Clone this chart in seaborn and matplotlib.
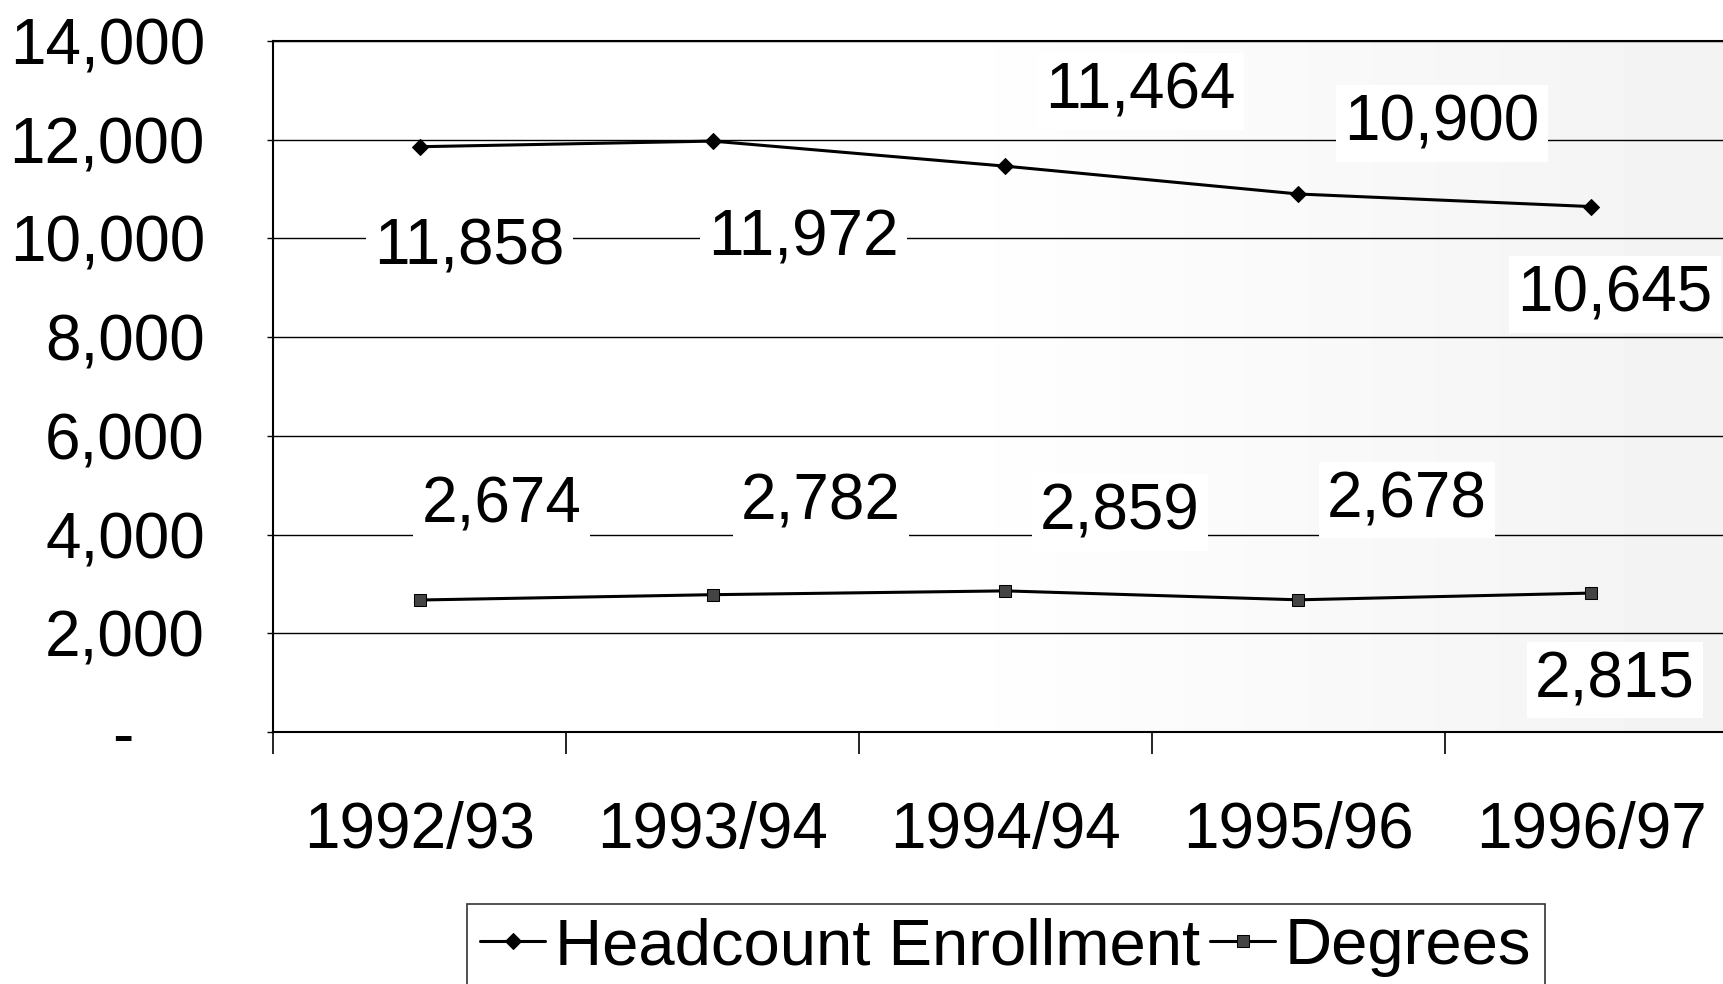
import numpy as np
import pandas as pd
import seaborn as sns
import matplotlib.pyplot as plt
from matplotlib.ticker import FixedLocator

# data
years = ["1992/93", "1993/94", "1994/94", "1995/96", "1996/97"]
headcount = [11858, 11972, 11464, 10900, 10645]
degrees = [2674, 2782, 2859, 2678, 2815]
y_ticks = [0, 2000, 4000, 6000, 8000, 10000, 12000, 14000]

# label placement (x in category units, y in data units)
head_lbl_pos = [(0.17, 9820), (1.31, 9990), (2.46, 12980), (3.49, 12330), (4.08, 8870)]
deg_lbl_pos = [(0.28, 4580), (1.37, 4650), (2.39, 4450), (3.37, 4700), (4.08, 1050)]

sns.set_style("white")
plt.rcParams["font.family"] = ["Liberation Sans", "DejaVu Sans"]
plt.rcParams["text.color"] = "black"
plt.rcParams["xtick.color"] = "black"
plt.rcParams["ytick.color"] = "black"
FS = 46

df = pd.DataFrame({
    "year": years * 2,
    "value": headcount + degrees,
    "series": ["Headcount Enrollment"] * 5 + ["Degrees"] * 5,
})

fig = plt.figure(figsize=(17.24, 9.84), dpi=100)
ax = fig.add_axes([273 / 1724, 1 - 732 / 984, 1465 / 1724, 691 / 984])

# faint grey wash on the right side like the scanned original
grad = np.linspace(0, 1, 256)
grad = np.clip((grad - 0.45) / 0.55, 0, 1)
shade = 1 - 0.05 * grad
ax.imshow(np.tile(shade, (2, 1)), cmap="gray", vmin=0, vmax=1, aspect="auto",
          extent=(0, 1, 0, 1), transform=ax.transAxes, zorder=0)

sns.lineplot(data=df[df.series == "Headcount Enrollment"], x="year", y="value",
             color="black", lw=2.2, marker="D", markersize=8, mec="black",
             label="Headcount Enrollment", ax=ax, zorder=4)
sns.lineplot(data=df[df.series == "Degrees"], x="year", y="value",
             color="black", lw=2.2, marker="s", markersize=9, mfc="#444444", mec="black",
             label="Degrees", ax=ax, zorder=4)

ax.set_xlim(-0.5, 4.5)
ax.set_ylim(0, 14000)
ax.set_yticks(y_ticks)
ax.set_yticklabels([f"{v:,}" if v else "-    " for v in y_ticks], fontsize=FS)
ax.tick_params(axis="y", direction="out", length=4, width=1, pad=45, left=True)
ax.set_xticks(range(len(years)))
ax.set_xticklabels(years, fontsize=FS)
ax.xaxis.set_minor_locator(FixedLocator(np.arange(-0.5, 5, 1)))
ax.tick_params(axis="x", which="major", length=0, pad=50)
ax.tick_params(axis="x", which="minor", direction="out", length=16, width=1.2, bottom=True)
ax.set_xlabel("")
ax.set_ylabel("")

ax.yaxis.grid(True, color="black", lw=1)
ax.set_axisbelow(True)
for side in ["left", "top", "bottom", "right"]:
    ax.spines[side].set_color("black")
    ax.spines[side].set_linewidth(1.5)

box = dict(facecolor="white", edgecolor="none", pad=6)
for (x, y), v in zip(head_lbl_pos, headcount):
    ax.text(x, y, f"{v:,}", fontsize=FS, ha="center", va="center", bbox=box, zorder=2)
for (x, y), v in zip(deg_lbl_pos, degrees):
    ax.text(x, y, f"{v:,}", fontsize=FS, ha="center", va="center", bbox=box, zorder=2)

ax.get_legend().remove()
handles, labels = ax.get_legend_handles_labels()
leg = fig.legend(handles, labels, loc="upper left", bbox_to_anchor=(467 / 1724, 1 - 904 / 984),
                 ncol=2, fontsize=FS + 1, frameon=True, fancybox=False, edgecolor="black",
                 handlelength=1.0, handletextpad=0.15, columnspacing=0.15,
                 borderaxespad=0, borderpad=0.2)
leg.get_frame().set_linewidth(1.2)

fig.savefig("out.png", dpi=100)
